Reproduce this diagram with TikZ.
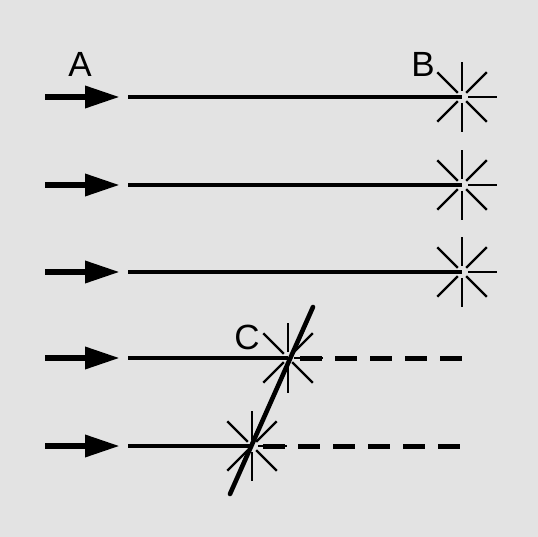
\documentclass[tikz,border=0pt]{standalone}
\usepackage{fontspec}
\setmainfont{Liberation Sans}
\usetikzlibrary{arrows.meta}

\begin{document}
\begin{tikzpicture}[
  x=1pt, y=-1pt,
  lbl/.style   ={font=\fontsize{35}{40}\selectfont, inner sep=0pt},
  feed/.style  ={-{Triangle[length=35pt,width=21pt]}, line width=6.5pt},
  beam/.style  ={line width=4.6pt},
  cut/.style   ={beam, line width=5pt, dash pattern=on 22pt off 13pt},
  spoke/.style ={line width=2.4pt},
  rod/.style   ={line width=4.6pt, line cap=round},
]

\fill[black!11] (0,0) rectangle (538,537);
\useasboundingbox (0,0) rectangle (538,537);

%% ---------------- incoming arrows ----------------
\foreach \r/\y in {1/97,2/185,3/272,4/358,5/446}{
  \coordinate (a\r) at (45,\y);
  \coordinate (t\r) at (120,\y);
  \coordinate (s\r) at (128,\y);
  \draw[feed] (a\r) -- (t\r);
}

%% ---------------- burst points ----------------
\coordinate (b1) at (462,97);
\coordinate (b2) at (462,185);
\coordinate (b3) at (462,272);
\coordinate (b4) at (288,358);
\coordinate (b5) at (252,446);

\foreach \r in {1,...,5}{
  \draw[beam] (s\r) -- (b\r);
  \foreach \a in {0,45,90,135,225,270,315}{
    \draw[spoke, shift={(b\r)}] (\a:6) -- (\a:35);
  }
}

%% ---------------- dashed continuation ----------------
\coordinate (d4) at (300,358);
\coordinate (e4) at (462,358);
\coordinate (d5) at (263,446);
\coordinate (e5) at (462,446);
\draw[cut] (d4) -- (e4);
\draw[cut] (d5) -- (e5);

%% ---------------- slanted rod ----------------
\coordinate (r0) at (230,494);
\coordinate (r1) at (313,307);
\draw[rod] (r0) -- (r1);

%% ---------------- labels ----------------
\node[lbl] (A) at (80,64) {A};
\node[lbl] (B) at (423,64) {B};
\node[lbl] (C) at (247,337) {C};

\end{tikzpicture}
\end{document}
